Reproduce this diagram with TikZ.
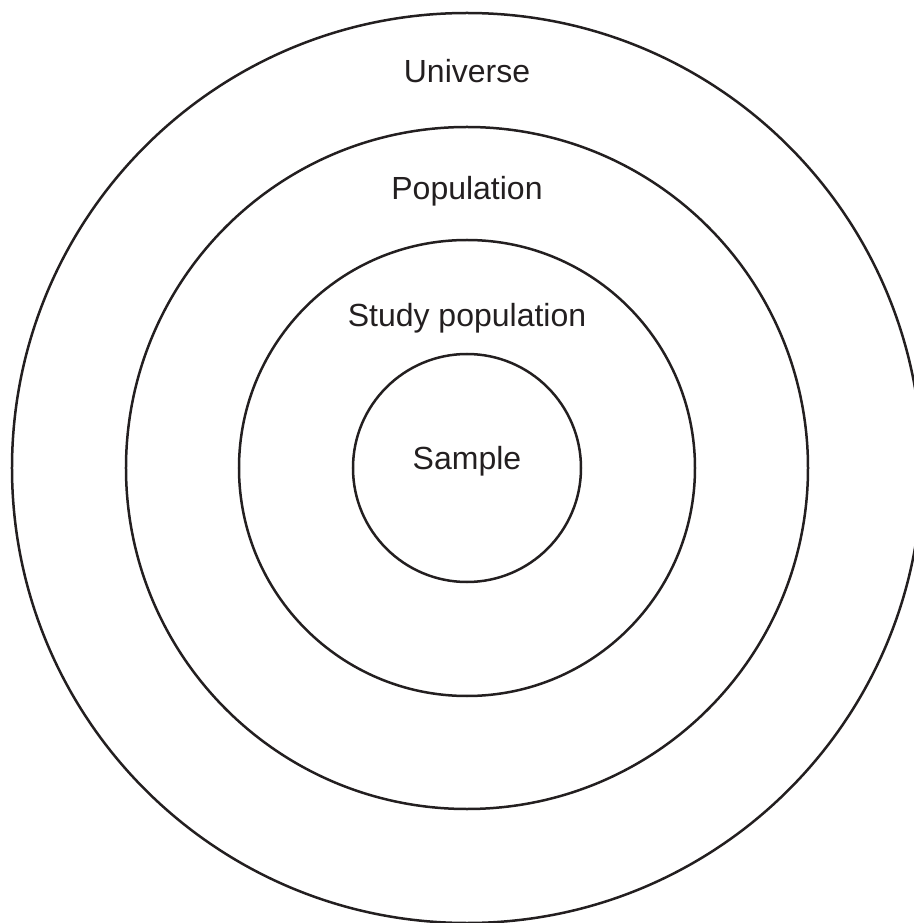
\documentclass[tikz,border=0pt]{standalone}
\usepackage{fontspec}
\setmainfont{Liberation Sans}
\usetikzlibrary{positioning}
\definecolor{ink}{HTML}{231F20}

\begin{document}
\begin{tikzpicture}[x=1pt, y=1pt,
    ring/.style={draw=ink, circle, line width=2.5pt, inner sep=0pt},
    lbl/.style={anchor=base, text=ink, font=\fontsize{32}{38}\selectfont}]
    \useasboundingbox (-467,-455) rectangle (446,468);

    \node (sample) [ring, minimum size=228pt] at (0,0) {};
    \node (study) [ring, minimum size=456pt] at (0,0) {};
    \node (pop) [ring, minimum size=682pt] at (0,0) {};
    \node (univ) [ring, minimum size=910pt] at (0,0) {};

    \node (sampleL) [lbl] at (0,-2) {Sample};
    \node (studyL) [lbl] at (0,141) {Study population};
    \node (popL) [lbl] at (0,268) {Population};
    \node (univL) [lbl] at (0,385) {Universe};
\end{tikzpicture}
\end{document}
